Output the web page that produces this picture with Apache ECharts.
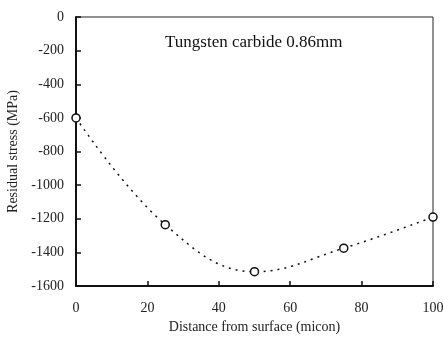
<!DOCTYPE html>
<html><head><meta charset="utf-8">
<script src="https://cdn.jsdelivr.net/npm/echarts@6/dist/echarts.min.js"></script>
<style>html,body{margin:0;padding:0;background:#fff}#c{width:443px;height:338px}</style>
</head><body><div id="c"></div>
<script>
const depth = [0, 25, 50, 75, 100];
const stress = [-600, -1235, -1515, -1375, -1190];
const title = 'Tungsten carbide 0.86mm';
const xName = 'Distance from surface (micon)';
const yName = 'Residual stress (MPa)';
const font = '"Liberation Serif", "DejaVu Serif", serif';
const chart = echarts.init(document.getElementById('c'), null, {renderer: 'canvas'});
chart.setOption({
  animation: false,
  backgroundColor: '#fff',
  title: {text: title, left: 160, top: 29, textStyle: {fontFamily: font, fontSize: 17, fontWeight: 'normal', color: '#111'}},
  grid: {left: 76, right: 10, top: 17, bottom: 52, containLabel: false, outerBoundsMode: 'none', show: true, borderColor: '#222', borderWidth: 1, backgroundColor: 'transparent'},
  xAxis: {
    type: 'value', min: 0, max: 100, interval: 20,
    name: xName, nameLocation: 'middle', nameGap: 34,
    nameTextStyle: {fontFamily: font, fontSize: 14, color: '#222'},
    axisLine: {onZero: false, lineStyle: {color: '#111', width: 2}},
    axisTick: {inside: true, length: 5, lineStyle: {color: '#111', width: 1.5}},
    axisLabel: {fontFamily: font, fontSize: 14, color: '#222', margin: 15},
    splitLine: {show: false}
  },
  yAxis: {
    type: 'value', min: -1600, max: 0, interval: 200,
    name: yName, nameLocation: 'middle', nameGap: 56,
    nameTextStyle: {fontFamily: font, fontSize: 14, color: '#222'},
    axisLine: {onZero: false, lineStyle: {color: '#111', width: 2}},
    axisTick: {inside: true, length: 5, lineStyle: {color: '#111', width: 1.5}},
    axisLabel: {fontFamily: font, fontSize: 14, color: '#222', margin: 12, formatter: v => String(v)},
    splitLine: {show: false}
  },
  series: [{
    type: 'line',
    data: depth.map((d, i) => [d, stress[i]]),
    smooth: 0.4,
    symbol: 'circle', symbolSize: 8,
    itemStyle: {color: '#fff', borderColor: '#111', borderWidth: 1.5},
    lineStyle: {color: '#111', width: 1.5, type: [2, 5]},
    clip: false
  }]
});
</script></body></html>
